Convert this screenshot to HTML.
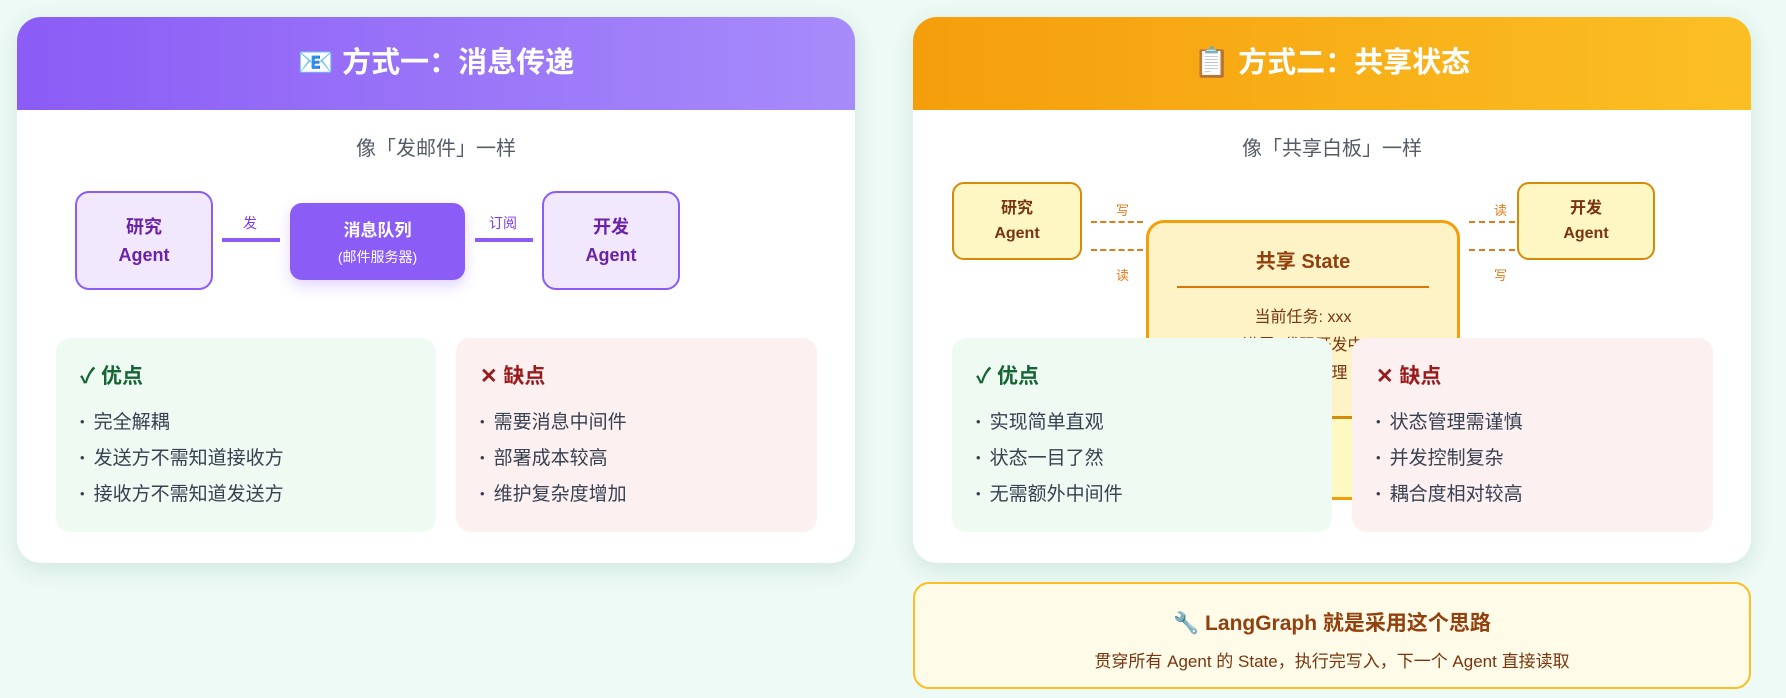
<!DOCTYPE html>
<html><head><meta charset="utf-8"><style>
*{box-sizing:border-box;margin:0;padding:0}
body{width:1786px;height:698px;background:#edfaf5;font-family:"Liberation Sans","Noto Sans CJK SC",sans-serif;position:relative;overflow:hidden}
.abs{position:absolute}
.card{position:absolute;top:17px;width:838px;height:546px;background:#fff;border-radius:24px;box-shadow:0 6px 24px rgba(0,80,60,.12);overflow:hidden}
.hdr{position:absolute;left:0;top:0;width:100%;height:93px;color:#fff;font-weight:bold;font-size:29px;text-align:center;line-height:93px}
.sub{position:absolute;left:0;width:100%;top:115px;text-align:center;font-size:20px;color:#555b66}
.node{position:absolute;display:flex;flex-direction:column;align-items:center;justify-content:center;font-weight:bold;text-align:center}
.box{position:absolute;border-radius:14px;padding:22px 0 0 24px}
.box h3{font-size:21px;margin-bottom:14px}
.box div{font-size:19px;color:#374151;line-height:35px}
.box div:before{content:"•";font-size:13px;margin-right:9px;vertical-align:2px}
.pro{background:#effaf2}.pro h3{color:#166534}
.con{background:#fdf0f0}.con h3{color:#991b1b}
.lbl{position:absolute;font-size:14px}
.dash{position:absolute;height:0;border-top:2.5px dashed #e07b1a}
</style></head><body>

<div class="card" style="left:17px">
 <div class="hdr" style="background:linear-gradient(90deg,#8b5cf6,#a78bfa)">📧 方式一：消息传递</div>
 <div class="sub">像「发邮件」一样</div>
 <div class="node" style="left:58px;top:174px;width:138px;height:99px;background:#f1e8fe;border:2.5px solid #8b5cf6;border-radius:14px;color:#6b21a8;font-size:18px;line-height:28px">研究<br>Agent</div>
 <div class="abs" style="left:205px;top:221px;width:58px;height:4px;background:#8b5cf6"></div>
 <div class="lbl" style="left:226px;top:196px;color:#7c3aed">发</div>
 <div class="node" style="left:273px;top:186px;width:175px;height:77px;background:#8b5cf6;border-radius:12px;color:#fff;font-size:17px;box-shadow:0 6px 14px rgba(139,92,246,.25)">消息队列<span style="font-weight:normal;font-size:14px;margin-top:6px">(邮件服务器)</span></div>
 <div class="abs" style="left:458px;top:221px;width:58px;height:4px;background:#8b5cf6"></div>
 <div class="lbl" style="left:472px;top:196px;color:#7c3aed">订阅</div>
 <div class="node" style="left:525px;top:174px;width:138px;height:99px;background:#f1e8fe;border:2.5px solid #8b5cf6;border-radius:14px;color:#6b21a8;font-size:18px;line-height:28px">开发<br>Agent</div>
 <div class="box pro" style="left:39px;top:321px;width:380px;height:194px"><h3>✓ 优点</h3><div>完全解耦</div><div>发送方不需知道接收方</div><div>接收方不需知道发送方</div></div>
 <div class="box con" style="left:439px;top:321px;width:361px;height:194px"><h3>✕ 缺点</h3><div>需要消息中间件</div><div>部署成本较高</div><div>维护复杂度增加</div></div>
</div>

<div class="card" style="left:913px">
 <div class="hdr" style="background:linear-gradient(90deg,#f59e0b,#fbbf24)">📋 方式二：共享状态</div>
 <div class="sub">像「共享白板」一样</div>
 <div class="node" style="left:39px;top:165px;width:130px;height:78px;background:#fef6c3;border:2.5px solid #d68a0a;border-radius:12px;color:#78350f;font-size:16px;line-height:25px">研究<br>Agent</div>
 <div class="node" style="left:604px;top:165px;width:138px;height:78px;background:#fef6c3;border:2.5px solid #d68a0a;border-radius:12px;color:#78350f;font-size:16px;line-height:25px">开发<br>Agent</div>
 <div class="dash" style="left:178px;top:204px;width:52px"></div>
 <div class="dash" style="left:178px;top:232px;width:52px"></div>
 <div class="lbl" style="left:203px;top:183px;color:#e07b1a;font-size:13px">写</div>
 <div class="lbl" style="left:203px;top:248px;color:#e07b1a;font-size:13px">读</div>
 <div class="dash" style="left:556px;top:204px;width:46px"></div>
 <div class="dash" style="left:556px;top:232px;width:46px"></div>
 <div class="lbl" style="left:581px;top:183px;color:#e07b1a;font-size:13px">读</div>
 <div class="lbl" style="left:581px;top:248px;color:#e07b1a;font-size:13px">写</div>
 <div class="abs" style="left:233px;top:203px;width:314px;height:280px;background:#fef3c7;border:3px solid #f59e0b;border-radius:18px;text-align:center;color:#78350f">
  <div style="font-weight:bold;font-size:20px;margin-top:22px;color:#92400e">共享 State</div>
  <div style="margin:12px auto 0;width:252px;height:2px;background:#d97706"></div>
  <div style="font-size:16px;margin-top:16px;line-height:28px">当前任务: xxx<br>进展: 代码开发中<br>结果: 待整理</div>
  <div style="font-size:12px;color:#e07b1a;margin-top:8px">读写</div>
  <div style="position:absolute;left:0;right:0;top:193px;bottom:0;background:#fef9c3;border-top:3px solid #d68a0a"></div>
 </div>
 <div class="box pro" style="left:39px;top:321px;width:380px;height:194px"><h3>✓ 优点</h3><div>实现简单直观</div><div>状态一目了然</div><div>无需额外中间件</div></div>
 <div class="box con" style="left:439px;top:321px;width:361px;height:194px"><h3>✕ 缺点</h3><div>状态管理需谨慎</div><div>并发控制复杂</div><div>耦合度相对较高</div></div>
</div>

<div class="abs" style="left:913px;top:582px;width:838px;height:107px;background:#fefbe8;border:2px solid #fbbf24;border-radius:16px;text-align:center">
 <div style="font-weight:bold;font-size:21px;color:#92400e;margin-top:23px">🔧 LangGraph 就是采用这个思路</div>
 <div style="font-size:17px;color:#78350f;margin-top:10px">贯穿所有 Agent 的 State，执行完写入，下一个 Agent 直接读取</div>
</div>
</body></html>
